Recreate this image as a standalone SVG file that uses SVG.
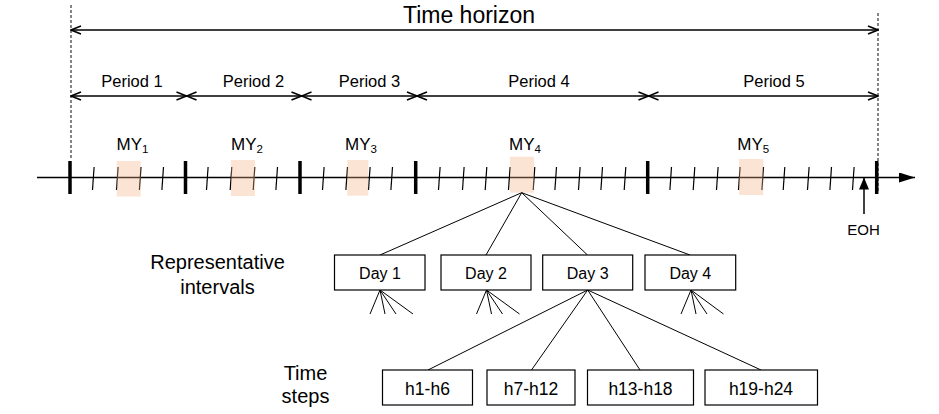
<svg xmlns="http://www.w3.org/2000/svg" width="939" height="414" viewBox="0 0 939 414">
<style>
text{font-family:"Liberation Sans",Arial,sans-serif;fill:#000}
.c{text-anchor:middle}
.box{fill:#fff;stroke:#000;stroke-width:1.2}
.ln{stroke:#000;stroke-width:1;fill:none}
.dash{stroke:#222;stroke-width:1.1;stroke-dasharray:3 2}
.thick{stroke:#000;stroke-width:3.5}
.thin{stroke:#000;stroke-width:1.2}
.my{fill:#F4B183;fill-opacity:0.35}
.span{stroke:#000;stroke-width:1.5;fill:none;marker-start:url(#chev);marker-end:url(#chev)}
.per{font-size:16.5px}
.myl{font-size:17px}
.sub{font-size:11.5px}
.day{font-size:16px}
.hr{font-size:17.5px}
</style>
<defs>
<marker id="chev" viewBox="0 0 12 10" refX="11" refY="5" markerWidth="12" markerHeight="10" markerUnits="userSpaceOnUse" orient="auto-start-reverse">
<path d="M1,1 L11,5 L1,9" fill="none" stroke="#000" stroke-width="1.5"/>
</marker>
<marker id="tri" viewBox="0 0 16 10" refX="16" refY="5" markerWidth="16" markerHeight="10" markerUnits="userSpaceOnUse" orient="auto">
<path d="M0,0 L16,5 L0,10 Z" fill="#000"/>
</marker>
<marker id="tri2" viewBox="0 0 12 10" refX="12" refY="5" markerWidth="12" markerHeight="10" markerUnits="userSpaceOnUse" orient="auto">
<path d="M0,0 L12,5 L0,10 Z" fill="#000"/>
</marker>
</defs>

<g id="horizon">
<line class="dash" x1="71" y1="5" x2="71" y2="160"/>
<line class="dash" x1="878" y1="13" x2="878" y2="193"/>
<line class="span" x1="71" y1="30" x2="878" y2="30"/>
<text class="c" x="469" y="23" font-size="23">Time horizon</text>
</g>

<g id="periods">
<line class="span" x1="71" y1="96" x2="186.5" y2="96"/>
<line class="span" x1="186.5" y1="96" x2="301.5" y2="96"/>
<line class="span" x1="301.5" y1="96" x2="417" y2="96"/>
<line class="span" x1="417" y1="96" x2="648.5" y2="96"/>
<line class="span" x1="648.5" y1="96" x2="878" y2="96"/>
<text class="c per" x="132" y="87">Period 1</text>
<text class="c per" x="253.5" y="87">Period 2</text>
<text class="c per" x="369.5" y="87">Period 3</text>
<text class="c per" x="539" y="87">Period 4</text>
<text class="c per" x="774" y="87">Period 5</text>
</g>

<g id="axis">
<line x1="37" y1="177.5" x2="915" y2="177.5" stroke="#000" stroke-width="1.5" marker-end="url(#tri)"/>
<g class="thick">
<line x1="70" y1="161" x2="70" y2="194"/>
<line x1="185.5" y1="161" x2="185.5" y2="194"/>
<line x1="300" y1="161" x2="300" y2="194"/>
<line x1="415.7" y1="161" x2="415.7" y2="194"/>
<line x1="647.7" y1="161" x2="647.7" y2="194"/>
<line x1="876.7" y1="161" x2="876.7" y2="194"/>
</g>
<g class="thin">
<line x1="94.1" y1="167" x2="92.5" y2="190"/>
<line x1="118.1" y1="167" x2="116.5" y2="190"/>
<line x1="141" y1="167" x2="139.4" y2="190"/>
<line x1="163.5" y1="167" x2="161.9" y2="190"/>
<line x1="208.1" y1="167" x2="206.5" y2="190"/>
<line x1="231.8" y1="167" x2="230.2" y2="190"/>
<line x1="254.8" y1="167" x2="253.2" y2="190"/>
<line x1="277.5" y1="167" x2="275.9" y2="190"/>
<line x1="324.1" y1="167" x2="322.5" y2="190"/>
<line x1="347.5" y1="167" x2="345.9" y2="190"/>
<line x1="370.1" y1="167" x2="368.5" y2="190"/>
<line x1="392.5" y1="167" x2="390.9" y2="190"/>
<line x1="440.1" y1="167" x2="438.5" y2="190"/>
<line x1="464.1" y1="167" x2="462.5" y2="190"/>
<line x1="486.8" y1="167" x2="485.2" y2="190"/>
<line x1="510.1" y1="167" x2="508.5" y2="190"/>
<line x1="534.8" y1="167" x2="533.2" y2="190"/>
<line x1="556.5" y1="167" x2="554.9" y2="190"/>
<line x1="580.1" y1="167" x2="578.5" y2="190"/>
<line x1="602.5" y1="167" x2="600.9" y2="190"/>
<line x1="625.8" y1="167" x2="624.2" y2="190"/>
<line x1="671.5" y1="167" x2="669.9" y2="190"/>
<line x1="694.8" y1="167" x2="693.2" y2="190"/>
<line x1="718.1" y1="167" x2="716.5" y2="190"/>
<line x1="740.1" y1="167" x2="738.5" y2="190"/>
<line x1="763.5" y1="167" x2="761.9" y2="190"/>
<line x1="784.8" y1="167" x2="783.2" y2="190"/>
<line x1="809.1" y1="167" x2="807.5" y2="190"/>
<line x1="831.5" y1="167" x2="829.9" y2="190"/>
<line x1="854.1" y1="167" x2="852.5" y2="190"/>
</g>
</g>

<g id="my1"><rect class="my" x="116.7" y="161" width="24" height="35.5"/><text class="myl" x="116.5" y="149.5">MY<tspan class="sub" dy="3">1</tspan></text></g>
<g id="my2"><rect class="my" x="231" y="160" width="24" height="36"/><text class="myl" x="231" y="149.5">MY<tspan class="sub" dy="3">2</tspan></text></g>
<g id="my3"><rect class="my" x="347.3" y="160" width="21" height="35.7"/><text class="myl" x="345" y="149.5">MY<tspan class="sub" dy="3">3</tspan></text></g>
<g id="my4"><rect class="my" x="510" y="156.7" width="24" height="36"/><text class="myl" x="509" y="149.5">MY<tspan class="sub" dy="3">4</tspan></text></g>
<g id="my5"><rect class="my" x="739" y="159" width="24.3" height="36"/><text class="myl" x="737.3" y="149.5">MY<tspan class="sub" dy="3">5</tspan></text></g>

<g id="eoh">
<line x1="864" y1="214" x2="864" y2="177.5" stroke="#000" stroke-width="1.5" marker-end="url(#tri2)"/>
<text class="c" x="863.5" y="234.5" font-size="15px">EOH</text>
</g>

<g id="labels">
<text class="c" x="217.5" y="268.5" font-size="20px">Representative</text>
<text class="c" x="217.5" y="294" font-size="20px">intervals</text>
<text class="c" x="305.5" y="379.5" font-size="20px">Time</text>
<text class="c" x="305.5" y="402.5" font-size="20px">steps</text>
</g>

<g id="connectors" class="ln">
<line x1="521.7" y1="192.7" x2="380" y2="255"/>
<line x1="521.7" y1="192.7" x2="486" y2="255"/>
<line x1="521.7" y1="192.7" x2="587.5" y2="255"/>
<line x1="521.7" y1="192.7" x2="690" y2="255"/>
<line x1="587.7" y1="290" x2="428" y2="370"/>
<line x1="587.7" y1="290" x2="531.5" y2="370"/>
<line x1="587.7" y1="290" x2="640" y2="370"/>
<line x1="587.7" y1="290" x2="761" y2="370"/>
<path d="M380,290 L370,314 M380,290 L385,314 M380,290 L396,314 M380,290 L413,314"/>
<path d="M486.5,290 L476.5,314 M486.5,290 L491.5,314 M486.5,290 L502.5,314 M486.5,290 L519.5,314"/>
<path d="M691,290 L681,314 M691,290 L696,314 M691,290 L707,314 M691,290 L723.5,314"/>
</g>

<g id="day1"><rect class="box" x="334.5" y="255" width="90.5" height="35"/><text class="c day" x="380" y="279">Day 1</text></g>
<g id="day2"><rect class="box" x="441" y="255" width="90" height="35"/><text class="c day" x="486" y="279">Day 2</text></g>
<g id="day3"><rect class="box" x="542.7" y="255" width="90" height="35"/><text class="c day" x="587.7" y="279">Day 3</text></g>
<g id="day4"><rect class="box" x="645" y="255" width="90.7" height="35"/><text class="c day" x="690.3" y="279">Day 4</text></g>

<g id="h1"><rect class="box" x="382.5" y="370" width="90" height="35"/><text class="c hr" x="427.5" y="394.5">h1-h6</text></g>
<g id="h2"><rect class="box" x="487" y="370" width="88" height="35"/><text class="c hr" x="531" y="394.5">h7-h12</text></g>
<g id="h3"><rect class="box" x="587.5" y="370" width="106" height="35"/><text class="c hr" x="640.5" y="394.5">h13-h18</text></g>
<g id="h4"><rect class="box" x="705" y="370" width="112.5" height="35"/><text class="c hr" x="761" y="394.5">h19-h24</text></g>
</svg>
